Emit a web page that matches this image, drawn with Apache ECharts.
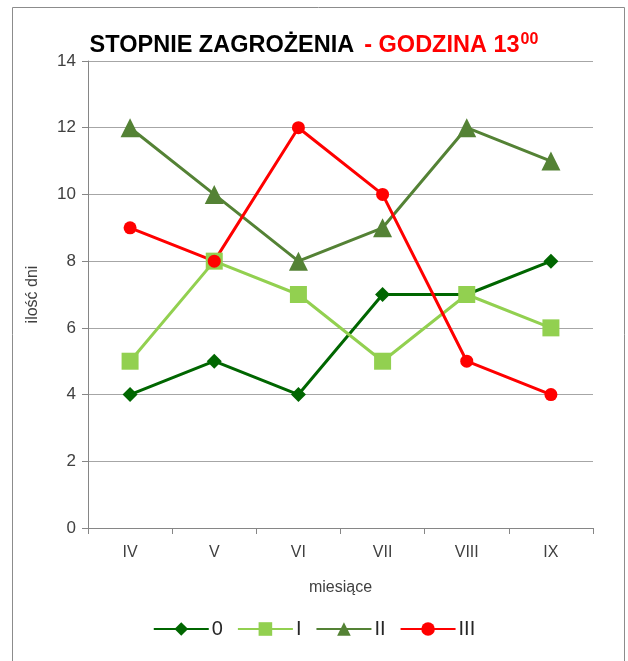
<!DOCTYPE html>
<html><head><meta charset="utf-8">
<script src="https://cdn.jsdelivr.net/npm/echarts@6/dist/echarts.min.js"></script>
<style>html,body{margin:0;padding:0;background:#fff}#c{width:628px;height:661px}</style>
</head><body><div id="c"></div>
<script>
const categories = ['IV','V','VI','VII','VIII','IX'];
const seriesNames = ['0','I','II','III'];
const s0 = [4,5,4,7,7,8];
const sI = [5,8,7,5,7,6];
const sII = [12,10,8,9,12,11];
const sIII = [9,8,12,10,5,4];
const yTicks = [0,2,4,6,8,10,12,14];

const colors = ['#006600','#92D050','#548235','#FF0000'];
const symbols = ['diamond','rect','triangle','circle'];
const sizes = [15,17,19,13];
const data = [s0,sI,sII,sIII];

const chart = echarts.init(document.getElementById('c'));
chart.setOption({
  animation:false,
  textStyle:{fontFamily:'Liberation Sans, Arial, sans-serif'},
  graphic:[{type:'rect',shape:{x:12.5,y:7.5,width:612,height:670},style:{fill:'none',stroke:'#8c8c8c',lineWidth:1}}],
  title:{
    left:'center', top:27,
    text:'{a|STOPNIE ZAGROŻENIA}  {b|- GODZINA 13}{c|00}',
    textStyle:{rich:{
      a:{fontSize:23.5,fontWeight:'bold',color:'#000',fontFamily:'Liberation Sans, Arial'},
      b:{fontSize:23.5,fontWeight:'bold',color:'#FF0000',fontFamily:'Liberation Sans, Arial'},
      c:{fontSize:16,fontWeight:'bold',color:'#FF0000',fontFamily:'Liberation Sans, Arial',padding:[0,0,12,1]}
    }}
  },
  grid:{left:88,right:35,top:61,bottom:133,containLabel:false},
  xAxis:{
    type:'category', data:categories, boundaryGap:true,
    name:'miesiące', nameLocation:'middle', nameGap:52,
    nameTextStyle:{fontSize:16,color:'#404040'},
    axisLine:{lineStyle:{color:'#868686',width:1}},
    axisTick:{show:true,alignWithLabel:false,length:6,lineStyle:{color:'#868686'}},
    axisLabel:{fontSize:16,color:'#404040',margin:17}
  },
  yAxis:{
    type:'value', min:0, max:14, interval:2,
    name:'ilość dni', nameLocation:'middle', nameGap:47,
    nameTextStyle:{fontSize:16,color:'#404040'},
    axisLine:{show:true,lineStyle:{color:'#868686'}},
    axisTick:{show:true,inside:false,length:6,lineStyle:{color:'#868686'}},
    axisLabel:{fontSize:17,color:'#404040',margin:12,formatter:v=>yTicks.includes(v)?String(v):''},
    splitLine:{lineStyle:{color:'#A6A6A6',width:1}}
  },
  legend:{
    bottom:17, left:'center', itemWidth:55, itemHeight:17, itemGap:14,
    textStyle:{fontSize:20,color:'#262626',padding:[0,0,0,-2]},
    data:seriesNames
  },
  series: seriesNames.map((n,i)=>({
    name:n, type:'line', data:data[i],
    symbol:symbols[i], symbolSize:sizes[i],
    itemStyle:{color:colors[i]},
    lineStyle:{color:colors[i],width:3}
  }))
});
</script></body></html>
